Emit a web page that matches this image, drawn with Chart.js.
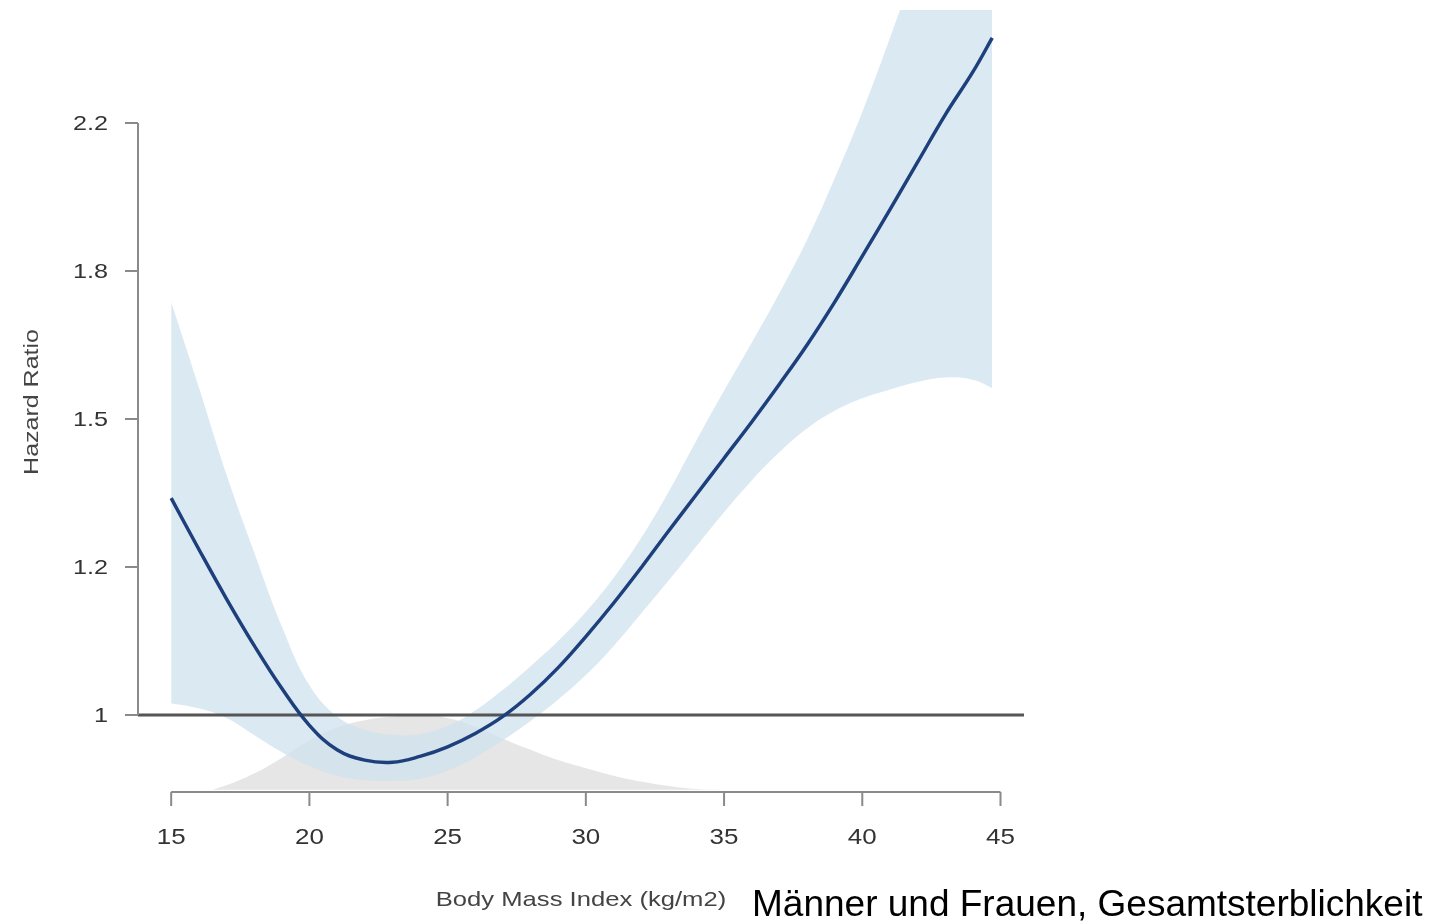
<!DOCTYPE html>
<html>
<head>
<meta charset="utf-8">
<script src="https://cdn.jsdelivr.net/npm/chart.js@4/dist/chart.umd.min.js"></script>
<style>
  body { margin: 0; background: #fff; }
  canvas { display: block; }
</style>
</head>
<body>
<canvas id="canvas" width="1445" height="923"></canvas>
<script>
// BMI grid and log hazard ratio values
const bmi = [15, 16, 17, 18, 19, 20, 21, 22, 23, 24, 25, 26, 27, 28, 29, 30,
             31, 32, 33, 34, 35, 36, 37, 38, 39, 40, 41, 42, 43, 44, 44.7];
const logHR = [0.293, 0.224, 0.157, 0.094, 0.036, -0.014, -0.047, -0.061, -0.064, -0.056,
               -0.043, -0.025, -0.002, 0.028, 0.064, 0.106, 0.151, 0.199, 0.249, 0.298,
               0.347, 0.396, 0.447, 0.500, 0.558, 0.620, 0.683, 0.747, 0.811, 0.869, 0.915];
const upperCI = [0.558, 0.443, 0.325, 0.220, 0.120, 0.040, -0.002, -0.020, -0.027, -0.026,
                 -0.015, 0.006, 0.034, 0.066, 0.100, 0.139, 0.185, 0.239, 0.302, 0.371,
                 0.438, 0.503, 0.570, 0.642, 0.725, 0.815, 0.915, 1.020, 1.128, 1.236, 1.304];
const lowerCI = [0.016, 0.009, -0.004, -0.027, -0.050, -0.069, -0.082, -0.088, -0.089, -0.086,
                 -0.075, -0.057, -0.034, -0.008, 0.021, 0.054, 0.093, 0.137, 0.182, 0.228,
                 0.274, 0.317, 0.355, 0.387, 0.411, 0.428, 0.440, 0.450, 0.456, 0.453, 0.442];

// BMI distribution (grey density at the bottom), same vertical units
const densBmi = [16.5, 17, 18, 19, 20, 21, 22, 23, 24, 25, 26, 27, 28, 29, 30, 31, 32, 33, 34, 35];
const densTop = [-0.101, -0.095, -0.079, -0.058, -0.034, -0.017, -0.007, -0.002, 0.000, -0.004,
                 -0.016, -0.032, -0.047, -0.061, -0.072, -0.082, -0.090, -0.096, -0.100, -0.101];
const densBase = -0.101;

const xTicks = [15, 20, 25, 30, 35, 40, 45];
const yTickValues = [0, 0.2, 0.4, 0.6, 0.8];
const yTickLabels = ['1', '1.2', '1.5', '1.8', '2.2'];

const xTitle = 'Body Mass Index (kg/m2)';
const yTitle = 'Hazard Ratio';
const caption = 'Männer und Frauen, Gesamtsterblichkeit';

function pts(xs, ys) {
    return xs.map((x, i) => ({ x: x, y: ys[i] }));
}

// the original figure's text is a bit wide, so stretch it horizontally
function wideText(ctx, text, x, y, stretch) {
    ctx.save();
    ctx.translate(x, y);
    ctx.scale(stretch, 1);
    ctx.fillText(text, 0, 0);
    ctx.restore();
}

const axesPlugin = {
    id: 'rAxes',
    afterDraw(chart) {
        const ctx = chart.ctx;
        const xs = chart.scales.x;
        const ys = chart.scales.y;
        const left = chart.chartArea.left;
        const bottom = chart.chartArea.bottom;
        ctx.save();
        ctx.strokeStyle = '#8a8a8a';
        ctx.lineWidth = 2;

        // y axis
        ctx.beginPath();
        ctx.moveTo(left, ys.getPixelForValue(yTickValues[yTickValues.length - 1]));
        ctx.lineTo(left, ys.getPixelForValue(yTickValues[0]));
        yTickValues.forEach(v => {
            const py = ys.getPixelForValue(v);
            ctx.moveTo(left, py);
            ctx.lineTo(left - 13, py);
        });
        ctx.stroke();

        ctx.fillStyle = '#333';
        ctx.font = '21px "Liberation Sans", Arial, sans-serif';
        ctx.textAlign = 'right';
        ctx.textBaseline = 'middle';
        yTickValues.forEach((v, i) => {
            wideText(ctx, yTickLabels[i], left - 30, ys.getPixelForValue(v) + 1, 1.2);
        });

        // x axis
        const axY = bottom + 2;
        ctx.beginPath();
        ctx.moveTo(xs.getPixelForValue(xTicks[0]), axY);
        ctx.lineTo(xs.getPixelForValue(xTicks[xTicks.length - 1]), axY);
        xTicks.forEach(v => {
            const px = xs.getPixelForValue(v);
            ctx.moveTo(px, axY);
            ctx.lineTo(px, axY + 14);
        });
        ctx.stroke();

        ctx.textAlign = 'center';
        ctx.font = '22px "Liberation Sans", Arial, sans-serif';
        xTicks.forEach(v => {
            wideText(ctx, String(v), xs.getPixelForValue(v), axY + 46, 1.18);
        });

        // titles
        ctx.fillStyle = '#444';
        ctx.font = '21px "Liberation Sans", Arial, sans-serif';
        wideText(ctx, xTitle, 581, 900, 1.22);

        ctx.save();
        ctx.translate(32, 402);
        ctx.rotate(-Math.PI / 2);
        wideText(ctx, yTitle, 0, 0, 1.19);
        ctx.restore();

        ctx.fillStyle = '#000';
        ctx.font = '37px "Liberation Sans", Arial, sans-serif';
        ctx.textAlign = 'left';
        ctx.textBaseline = 'alphabetic';
        ctx.fillText(caption, 752, 916);
        ctx.restore();
    }
};

const ctx = document.getElementById('canvas').getContext('2d');
const myChart = new Chart(ctx, {
    type: 'line',
    data: {
        datasets: [
            {
                label: 'HR',
                data: pts(bmi, logHR),
                borderColor: '#1d3f7c',
                borderWidth: 3.5,
                pointRadius: 0,
                tension: 0.4,
                fill: false,
                order: 0
            },
            {
                label: 'Referenz',
                data: [{ x: 13.8, y: 0 }, { x: 45.85, y: 0 }],
                borderColor: '#555555',
                borderWidth: 3,
                pointRadius: 0,
                fill: false,
                order: 1
            },
            {
                label: 'Obere Grenze',
                data: pts(bmi, upperCI),
                borderWidth: 0,
                borderColor: 'rgba(0,0,0,0)',
                backgroundColor: 'rgba(205,225,238,0.75)',
                pointRadius: 0,
                tension: 0.4,
                fill: '+1',
                order: 2
            },
            {
                label: 'Untere Grenze',
                data: pts(bmi, lowerCI),
                borderWidth: 0,
                borderColor: 'rgba(0,0,0,0)',
                pointRadius: 0,
                tension: 0.4,
                fill: false,
                order: 3
            },
            {
                label: 'Verteilung',
                data: pts(densBmi, densTop),
                borderWidth: 0,
                borderColor: 'rgba(0,0,0,0)',
                backgroundColor: '#e6e6e6',
                pointRadius: 0,
                tension: 0.4,
                fill: { value: densBase },
                order: 4
            }
        ]
    },
    options: {
        responsive: false,
        animation: false,
        layout: { padding: { left: 138, right: 421, top: 10, bottom: 133 } },
        plugins: {
            legend: { display: false },
            tooltip: { enabled: false }
        },
        scales: {
            x: { type: 'linear', min: 13.8, max: 45.85, display: false },
            y: { type: 'linear', min: -0.1014, max: 0.9527, display: false }
        }
    },
    plugins: [axesPlugin]
});
</script>
</body>
</html>
